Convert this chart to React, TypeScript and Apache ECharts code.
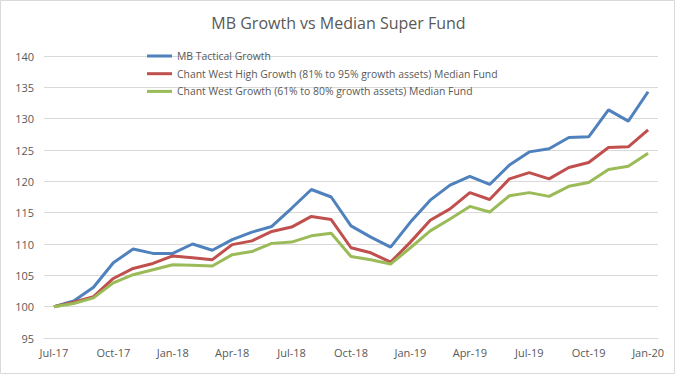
import React, { useEffect, useRef } from "react";
import * as echarts from "echarts";

const categories = [
  "Jul-17", "Aug-17", "Sep-17", "Oct-17", "Nov-17", "Dec-17",
  "Jan-18", "Feb-18", "Mar-18", "Apr-18", "May-18", "Jun-18",
  "Jul-18", "Aug-18", "Sep-18", "Oct-18", "Nov-18", "Dec-18",
  "Jan-19", "Feb-19", "Mar-19", "Apr-19", "May-19", "Jun-19",
  "Jul-19", "Aug-19", "Sep-19", "Oct-19", "Nov-19", "Dec-19",
  "Jan-20",
];

const mbTactical = [
  100, 100.9, 103.1, 107.0, 109.2, 108.5, 108.5, 110.0, 109.0, 110.7, 111.9, 112.8,
  115.7, 118.7, 117.5, 112.9, 111.1, 109.5, 113.5, 117.0, 119.4, 120.8, 119.5, 122.6,
  124.7, 125.2, 127.0, 127.1, 131.4, 129.6, 134.3,
];

const highGrowth = [
  100, 100.7, 101.6, 104.5, 106.1, 106.9, 108.1, 107.8, 107.5, 109.9, 110.5, 112.0,
  112.7, 114.4, 113.9, 109.4, 108.6, 107.1, 110.3, 113.8, 115.6, 118.2, 117.1, 120.4,
  121.4, 120.4, 122.2, 123.0, 125.4, 125.5, 128.2,
];

const growth = [
  100, 100.5, 101.4, 103.8, 105.1, 105.9, 106.7, 106.6, 106.5, 108.3, 108.8, 110.1,
  110.3, 111.3, 111.7, 108.0, 107.5, 106.8, 109.4, 112.1, 114.0, 116.0, 115.1, 117.7,
  118.2, 117.6, 119.2, 119.8, 121.9, 122.4, 124.5,
];

const seriesNames = [
  "MB Tactical Growth",
  "Chant West High Growth (81% to 95% growth assets) Median Fund",
  "Chant West Growth (61% to 80% growth assets) Median Fund",
];

const colors = ["#4f81bd", "#c0504d", "#9bbb59"];

const FONT = "'Open Sans', sans-serif";

export default function App() {
  const ref = useRef<HTMLDivElement>(null);
  useEffect(() => {
    if (!ref.current) return;
    const chart = echarts.init(ref.current, undefined, { renderer: "svg" });
    const mk = (name: string, data: number[], color: string) => ({
      name,
      type: "line",
      data,
      symbol: "none",
      smooth: false,
      lineStyle: { width: 3, color },
      itemStyle: { color },
    });
    chart.setOption({
      animation: false,
      backgroundColor: "#ffffff",
      textStyle: { fontFamily: FONT },
      title: {
        text: "MB Growth vs Median Super Fund",
        left: "center",
        top: 10,
        textStyle: { fontFamily: FONT, fontSize: 16, fontWeight: "normal", color: "#595959" },
      },
      legend: {
        orient: "vertical",
        left: 142,
        top: 44,
        itemWidth: 25,
        itemHeight: 3,
        itemGap: 3.7,
        icon: "rect",
        data: seriesNames,
        textStyle: { fontFamily: FONT, fontSize: 10.4, color: "#595959", lineHeight: 14 },
      },
      grid: { left: 44, right: 19, top: 56, bottom: 38 },
      xAxis: {
        type: "category",
        data: categories,
        boundaryGap: true,
        axisLine: { show: true, lineStyle: { color: "#d9d9d9", width: 1 } },
        axisTick: { show: false },
        axisLabel: { interval: 2, margin: 9, fontFamily: FONT, fontSize: 11, color: "#595959" },
      },
      yAxis: {
        type: "value",
        min: 95,
        max: 140,
        interval: 5,
        axisLine: { show: false },
        axisTick: { show: false },
        splitLine: { lineStyle: { color: "#d9d9d9", width: 1 } },
        axisLabel: { margin: 10, fontFamily: FONT, fontSize: 11, color: "#595959" },
      },
      graphic: [
        {
          type: "rect",
          shape: { x: 0.5, y: 0.5, width: 674, height: 373 },
          style: { fill: "none", stroke: "#d9d9d9", lineWidth: 1 },
          silent: true,
        },
      ],
      series: [
        mk(seriesNames[0], mbTactical, colors[0]),
        mk(seriesNames[1], highGrowth, colors[1]),
        mk(seriesNames[2], growth, colors[2]),
      ],
    });
    return () => chart.dispose();
  }, []);
  return (
    <div style={{ position: "fixed", left: 0, top: 0, width: 677, height: 376 }}>
      <div ref={ref} style={{ width: 677, height: 376 }} />
    </div>
  );
}
